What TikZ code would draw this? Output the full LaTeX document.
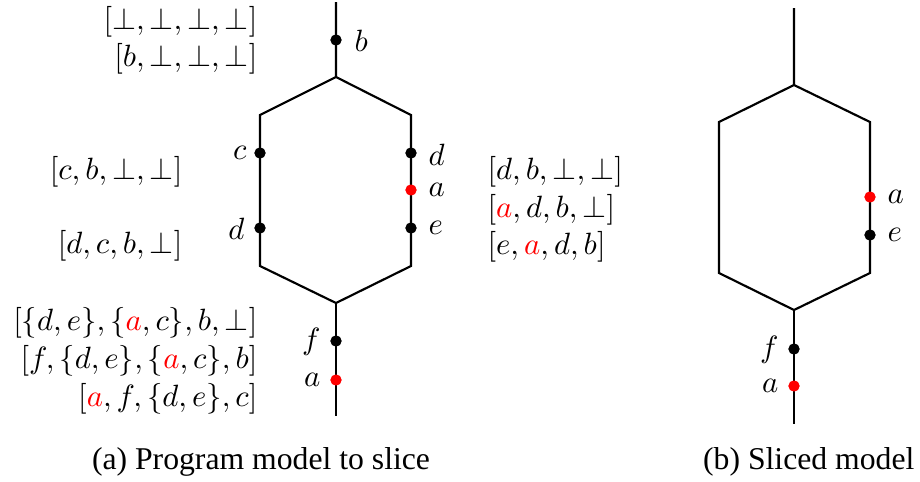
\documentclass[tikz,border=0pt]{standalone}
\usepackage{fontspec}
\newfontfamily\capfont{Liberation Serif}
\begin{document}
\begin{tikzpicture}[x=0.325pt,y=-0.325pt,
  wire/.style={line width=0.7pt},
  bdot/.style={circle,fill=black,inner sep=0pt,minimum size=3.6pt},
  rdot/.style={circle,fill=red,inner sep=0pt,minimum size=3.6pt},
  lbl/.style={inner sep=0pt},
  lst/.style={inner sep=0pt},
  captxt/.style={inner sep=0pt,font=\capfont\fontsize{10.3pt}{12.5pt}\selectfont}]
\useasboundingbox (0,0) rectangle (920,481);
% ---- left diagram ----
\coordinate (Ltop) at (336,2);
\coordinate (Lsplit) at (336,77);
\coordinate (LtlA) at (260,115);
\coordinate (LtrA) at (411,115);
\coordinate (LblA) at (260,266);
\coordinate (LbrA) at (411,266);
\coordinate (Ljoin) at (336,303);
\coordinate (Lbot) at (336,416);
\node[bdot] (Lb) at (336,40) {};
\node[bdot] (Lc) at (260,153) {};
\node[bdot] (Ld) at (260,228) {};
\node[bdot] (Rd) at (411,153) {};
\node[rdot] (Ra) at (411,190) {};
\node[bdot] (Re) at (411,228) {};
\node[bdot] (Lf) at (336,341) {};
\node[rdot] (La) at (336,380) {};
\draw[wire] (Ltop) -- (Lb.center) -- (Lsplit) -- (LtlA) -- (Lc.center) -- (Ld.center) -- (LblA) -- (Ljoin)
  -- (LbrA) -- (Re.center) -- (Ra.center) -- (Rd.center) -- (LtrA) -- (Lsplit);
\draw[wire] (Ljoin) -- (Lf.center) -- (La.center) -- (Lbot);
\node[bdot] at (Lb) {};
\node[bdot] at (Lc) {};
\node[bdot] at (Ld) {};
\node[bdot] at (Rd) {};
\node[rdot] at (Ra) {};
\node[bdot] at (Re) {};
\node[bdot] at (Lf) {};
\node[rdot] at (La) {};
% labels
\node[lbl,anchor=west] (tb) at (354,41) {$b$};
\node[lbl,anchor=east] (tc) at (247,153) {$c$};
\node[lbl,anchor=east] (td) at (245,229) {$d$};
\node[lbl,anchor=west] (tdr) at (428,155) {$d$};
\node[lbl,anchor=west] (tar) at (428,190) {$a$};
\node[lbl,anchor=west] (ter) at (428,228) {$e$};
\node[lbl,anchor=east] (tf) at (321,342) {$f$};
\node[lbl,anchor=east] (ta) at (321,380) {$a$};
% lists
\node[lst,anchor=east] (l1) at (258,22) {$[\bot,\bot,\bot,\bot]$};
\node[lst,anchor=east] (l2) at (258,59) {$[b,\bot,\bot,\bot]$};
\node[lst,anchor=east] (l3) at (183,172) {$[c,b,\bot,\bot]$};
\node[lst,anchor=east] (l4) at (183,246) {$[d,c,b,\bot]$};
\node[lst,anchor=west] (r1) at (487,172) {$[d,b,\bot,\bot]$};
\node[lst,anchor=west] (r2) at (487,210) {$[\textcolor{red}{a},d,b,\bot]$};
\node[lst,anchor=west] (r3) at (487,247) {$[e,\textcolor{red}{a},d,b]$};
\node[lst,anchor=east] (b1) at (258,323) {$[\{d,e\},\{\textcolor{red}{a},c\},b,\bot]$};
\node[lst,anchor=east] (b2) at (258,361) {$[f,\{d,e\},\{\textcolor{red}{a},c\},b]$};
\node[lst,anchor=east] (b3) at (258,399) {$[\textcolor{red}{a},f,\{d,e\},c]$};
\node[captxt] (capa) at (261,462) {(a) Program model to slice};
% ---- right diagram ----
\coordinate (Mtop) at (794,8);
\coordinate (Msplit) at (794,85);
\coordinate (Mtl) at (719,122);
\coordinate (Mtr) at (870,122);
\coordinate (Mbl) at (719,273);
\coordinate (Mbr) at (870,273);
\coordinate (Mjoin) at (794,310);
\coordinate (Mbot) at (794,424);
\node[rdot] (Ma) at (870,197) {};
\node[bdot] (Me) at (870,235) {};
\node[bdot] (Mf) at (794,349) {};
\node[rdot] (Ma2) at (794,386) {};
\draw[wire] (Mtop) -- (Msplit) -- (Mtl) -- (Mbl) -- (Mjoin) -- (Mbr) -- (Me.center) -- (Ma.center) -- (Mtr) -- (Msplit);
\draw[wire] (Mjoin) -- (Mf.center) -- (Ma2.center) -- (Mbot);
\node[rdot] at (Ma) {};
\node[bdot] at (Me) {};
\node[bdot] at (Mf) {};
\node[rdot] at (Ma2) {};
\node[lbl,anchor=west] (tma) at (887,197) {$a$};
\node[lbl,anchor=west] (tme) at (887,235) {$e$};
\node[lbl,anchor=east] (tmf) at (779,350) {$f$};
\node[lbl,anchor=east] (tma2) at (779,386) {$a$};
\node[captxt,anchor=east] (capb) at (915,462) {(b) Sliced model};
\end{tikzpicture}
\end{document}
